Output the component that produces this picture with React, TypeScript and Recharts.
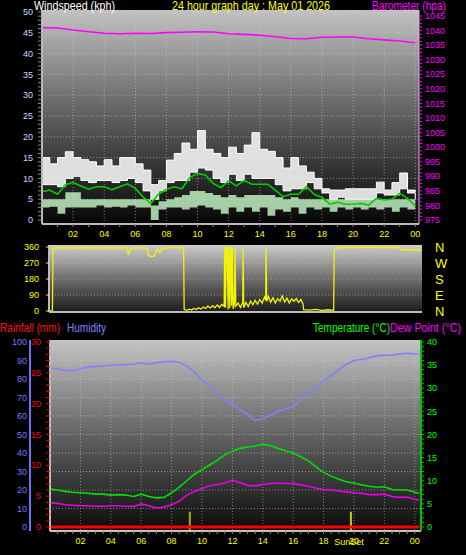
import React from "react";
import { Area, CartesianGrid, ComposedChart, Line, ReferenceLine, XAxis, YAxis } from "recharts";

const FONT = "'Liberation Sans Narrow', 'Arial Narrow', 'Liberation Sans', Arial, sans-serif";

// wind: half-hourly readings 00:00 .. 24:00
const windHours = Array.from({ length: 49 }, (_, i) => i / 2);
const windAvg = [
  6.8, 7.2, 6.2, 8.5, 9.0, 8.2, 7.4, 8.0, 8.0, 7.3, 8.0, 8.7, 7.6, 5.5, 4.0, 6.2, 7.4, 8.0, 7.5, 10.2, 11.2, 10.8, 8.8,
  7.8, 9.4, 8.2, 9.5, 8.6, 8.6, 8.6, 7.2, 5.6, 6.2, 6.2, 8.0, 6.2, 5.4, 3.8, 4.3, 3.8, 3.8, 4.0, 3.6, 5.2, 4.8, 5.0, 6.4,
  5.2, 3.4,
];
const gustHigh = [
  15, 13.5, 15, 16.4, 15, 14.5, 14, 13, 14.5, 13, 15, 15, 13.5, 12, 8.5, 9.5, 14.4, 16, 18.5, 17, 21.5, 17, 16, 15, 17.5,
  16, 18, 21, 17, 16.5, 15, 12.5, 15, 13, 11.5, 10, 7.5, 7.2, 7.2, 7.5, 7.5, 7.5, 7.5, 9.1, 7.2, 9, 11.3, 7.2, 6.7,
];
const gustLow = [
  8.5, 8.5, 8, 10, 10.5, 9.5, 9, 9.5, 9.5, 9, 9.5, 10, 9, 7, 5, 7, 9, 9.5, 9.5, 11.5, 12.5, 12, 10, 9, 11, 9.5, 11, 10,
  10, 10, 8.5, 7, 7.5, 7.5, 9, 7.5, 6.5, 5, 5.5, 5, 5, 5, 5, 6.5, 6, 6, 7.5, 6.5, 5,
];
const speedHigh = [
  5, 5, 5, 6.7, 6.7, 5, 5, 5, 5, 5, 5, 5, 5, 5, 3.5, 4.5, 5, 5.5, 6, 7, 7, 6.5, 6, 5.5, 6, 5.5, 6, 6, 6, 6, 5.5, 5, 5.5,
  5, 5, 5, 5, 5, 5, 5, 5, 5, 5, 5, 5, 5, 5, 5, 5,
];
const speedLow = [
  3, 3.2, 1.5, 3, 3, 3, 3, 3.5, 3, 3.2, 3, 3.5, 3, 3, 0, 2.5, 3, 3, 2.5, 3, 3.5, 3, 2.5, 1.5, 3, 2, 3, 2, 3, 1, 2.5, 2,
  3, 1.5, 3, 2.5, 3, 2, 3, 2.5, 3, 2.5, 3, 2.5, 3, 2, 3, 2.5, 3,
];

// barometer: hourly
const baroHours = Array.from({ length: 25 }, (_, i) => i);
const barometer = [
  1041.0, 1040.9, 1040.2, 1039.6, 1039.1, 1038.9, 1039.1, 1039.0, 1039.3, 1039.4, 1039.6, 1039.5, 1038.9, 1038.7,
  1038.4, 1037.9, 1037.3, 1037.2, 1037.7, 1037.8, 1037.8, 1037.2, 1036.8, 1036.4, 1035.8,
];

// wind direction (irregular samples)
const dirHours = [
  0, 0.22, 0.26, 0.8, 1.6, 2.4, 3.2, 4.0, 4.6, 5.0, 5.12, 5.25, 5.6, 6.2, 6.35, 6.42, 6.6, 6.8, 6.9, 7.05, 7.15, 7.3,
  7.8, 8.3, 8.68, 8.72, 8.9, 9.05, 9.2, 9.35, 9.5, 9.65, 9.8, 9.95, 10.1, 10.25, 10.4, 10.55, 10.7, 10.85, 11.0, 11.15,
  11.3, 11.33, 11.38, 11.44, 11.5, 11.55, 11.6, 11.66, 11.72, 11.78, 11.82, 11.88, 11.95, 12.0, 12.05, 12.2, 12.35, 12.5,
  12.52, 12.56, 12.7, 12.85, 13.0, 13.15, 13.3, 13.45, 13.6, 13.75, 13.9, 13.98, 14.0, 14.04, 14.15, 14.3, 14.45, 14.6,
  14.75, 14.9, 15.05, 15.2, 15.35, 15.5, 15.65, 15.8, 15.95, 16.1, 16.25, 16.38, 16.42, 16.8, 17.2, 17.6, 18.0, 18.36,
  18.4, 18.6, 19.0, 19.6, 20.2, 21.0, 21.6, 22.2, 22.6, 22.7, 23.0, 23.4, 23.8, 24.0,
];
const dirDegrees = [
  0, 0, 352, 357, 354, 357, 355, 357, 354, 357, 322, 350, 356, 355, 348, 312, 306, 310, 340, 345, 330, 352, 356, 357,
  356, 8, 4, 10, 6, 14, 8, 18, 10, 22, 14, 28, 16, 30, 18, 34, 20, 38, 25, 360, 20, 360, 356, 8, 358, 15, 360, 30, 358,
  12, 35, 350, 28, 45, 20, 50, 352, 18, 48, 25, 55, 35, 60, 38, 65, 45, 78, 60, 360, 55, 82, 50, 75, 45, 70, 55, 85, 50,
  72, 45, 68, 55, 70, 48, 65, 40, 8, 5, 9, 4, 7, 4, 345, 354, 358, 357, 358, 358, 357, 358, 356, 342, 346, 343, 346, 344,
];
const compass = ["N", "E", "S", "W", "N"];

// temperature / dew point / humidity: half-hourly
const climateHours = [...Array.from({ length: 49 }, (_, i) => i / 2), 24.3];
const temperature = [
  8.2, 8.0, 7.7, 7.5, 7.4, 7.3, 7.1, 7.1, 6.9, 7.0, 6.9, 6.6, 7.1, 6.6, 6.3, 6.4, 7.4, 8.6, 10.0, 11.4, 12.4, 13.4, 14.4,
  15.6, 16.4, 17.0, 17.3, 17.5, 17.9, 17.6, 17.0, 16.5, 16.0, 15.2, 14.3, 13.0, 11.8, 11.0, 10.3, 9.8, 9.5, 9.1, 8.8,
  8.6, 8.7, 8.1, 8.0, 8.0, 7.5, 7.3,
];
const dewPoint = [
  5.3, 5.1, 4.8, 4.7, 4.6, 4.6, 4.5, 4.5, 4.6, 4.6, 4.5, 4.4, 5.0, 4.6, 4.1, 4.3, 4.8, 5.6, 6.9, 7.7, 8.3, 8.9, 9.2, 9.5,
  10.1, 9.6, 9.0, 8.9, 9.2, 9.4, 9.5, 9.4, 9.4, 9.1, 8.8, 8.4, 8.1, 8.0, 7.8, 7.6, 7.4, 7.3, 7.0, 7.0, 7.1, 6.6, 6.4, 6.5,
  6.0, 5.8,
];
const humidity = [
  86, 85.5, 84.5, 84.5, 85.5, 86.5, 86.8, 87, 87.6, 87.6, 87.8, 88, 88.8, 88, 88.8, 89.4, 89.6, 89, 87, 84, 79.5, 76,
  72.3, 69, 66, 63.2, 61, 57.5, 58.5, 60.5, 62.5, 64, 65, 68.5, 72.5, 75, 79, 82, 85, 88, 90, 90.5, 91.5, 92.5, 92.8, 93,
  93.5, 93.9, 93.6, 93.5,
];
const rainHours = [0, 6, 12, 18, 24.3];
const rainfall = [0, 0, 0, 0, 0];
const sunrise = 9.2;
const sunset = 19.8;

const windRows = windHours.map((h, i) => ({
  h,
  avg: windAvg[i],
  gust: [gustLow[i], gustHigh[i]],
  speed: [speedLow[i], speedHigh[i]],
  baro: barometer[baroHours.indexOf(h)],
}));
const dirRows = dirHours.map((h, i) => ({ h, deg: dirDegrees[i] }));
const climateRows = climateHours.map((h, i) => ({
  h,
  temp: temperature[i],
  dew: dewPoint[i],
  hum: humidity[i],
  rain: rainfall[rainHours.indexOf(h)],
}));

const steps = (from: number, to: number, step: number) =>
  Array.from({ length: Math.round((to - from) / step) + 1 }, (_, i) => from + i * step);

const hourLabel = (v: number) => (v > 0 && v % 2 === 0 ? (v === 24 ? "00" : String(v).padStart(2, "0")) : null);
const everyFive = (v: number) => (Math.abs(v % 5) < 1e-6 ? String(v) : null);

function axisTick(color: string, label: (v: number) => string | null, side: "x" | "y", size = 9) {
  return (props: any) => {
    const { x, y, payload, textAnchor } = props;
    const text = label(payload.value);
    if (text === null) return <g />;
    return (
      <text
        x={x}
        y={y}
        dy={side === "x" ? "0.71em" : "0.35em"}
        textAnchor={textAnchor}
        fill={color}
        fontSize={size}
        fontFamily={FONT}
      >
        {text}
      </text>
    );
  };
}

function Gradient({ id, top, mid, bottom }: { id: string; top: string; mid: string; bottom: string }) {
  return (
    <defs>
      <linearGradient id={id} x1="0" y1="0" x2="0" y2="1">
        <stop offset="0%" stopColor={top} />
        <stop offset="50%" stopColor={mid} />
        <stop offset="100%" stopColor={bottom} />
      </linearGradient>
    </defs>
  );
}

const gridStyle = { stroke: "#d0d0d0", strokeDasharray: "1 2", strokeOpacity: 0.55 };

function Title({ x, y, w, color, children }: { x: number; y: number; w: number; color: string; children: string }) {
  return (
    <text x={x} y={y} fill={color} textLength={w} lengthAdjust="spacingAndGlyphs">
      {children}
    </text>
  );
}

export default function App() {
  return (
    <div
      style={{
        position: "absolute",
        left: 0,
        top: 0,
        width: 466,
        height: 555,
        background: "#000",
        overflow: "hidden",
        fontFamily: FONT,
      }}
    >
      {/* wind speed + barometer */}
      <div style={{ position: "absolute", left: 0, top: 0 }}>
        <ComposedChart width={466} height={245} data={windRows} margin={{ top: 10, right: 0, bottom: 0, left: 12 }}>
          <Gradient id="bg1" top="#c2c2c2" mid="#5e5e5e" bottom="#060606" />
          <CartesianGrid
            fill="url(#bg1)"
            {...gridStyle}
            horizontalValues={steps(5, 50, 5)}
            verticalValues={steps(2, 24, 2)}
          />
          <XAxis
            dataKey="h"
            type="number"
            domain={[0, 24.24]}
            allowDataOverflow
            ticks={steps(1, 24, 1)}
            interval={0}
            height={21}
            axisLine={{ stroke: "#bcbcbc", strokeWidth: 2 }}
            tickLine={{ stroke: "#8a8a8a" }}
            tickSize={3}
            tickMargin={4}
            tick={axisTick("#ffff00", hourLabel, "x")}
          />
          <YAxis
            type="number"
            domain={[-0.96, 50.48]}
            allowDataOverflow
            ticks={steps(0, 50, 1)}
            interval={0}
            width={30}
            axisLine={{ stroke: "#bcbcbc", strokeWidth: 2 }}
            tickLine={{ stroke: "#8a8a8a" }}
            tickSize={4}
            tickMargin={5}
            tick={axisTick("#c8dcff", everyFive, "y")}
          />
          <YAxis
            yAxisId="b"
            orientation="right"
            type="number"
            domain={[973.63, 1047.06]}
            allowDataOverflow
            ticks={steps(975, 1045, 1.25)}
            interval={0}
            width={47}
            axisLine={{ stroke: "#c8c8c8", strokeWidth: 1 }}
            tickLine={{ stroke: "#ff00ff" }}
            tickSize={3}
            tickMargin={3}
            tick={axisTick("#ff00ff", everyFive, "y")}
          />
          <Area
            dataKey="speed"
            type="stepAfter"
            stroke="none"
            fill="#bfeebf"
            fillOpacity={0.85}
            isAnimationActive={false}
          />
          <Area
            dataKey="gust"
            type="stepAfter"
            stroke="#ffffff"
            strokeWidth={1}
            fill="#f2f2f2"
            fillOpacity={0.9}
            isAnimationActive={false}
          />
          <Line dataKey="avg" stroke="#00d000" strokeWidth={1.6} dot={false} isAnimationActive={false} />
          <Line
            dataKey="baro"
            yAxisId="b"
            stroke="#ff00ff"
            strokeWidth={1.6}
            dot={false}
            connectNulls
            isAnimationActive={false}
          />
        </ComposedChart>
      </div>

      {/* wind direction */}
      <div style={{ position: "absolute", left: 0, top: 240 }}>
        <ComposedChart width={466} height={80} data={dirRows} margin={{ top: 5, right: 0, bottom: 7, left: 9 }}>
          <Gradient id="bg2" top="#cdcdcd" mid="#6e6e6e" bottom="#1c1c1c" />
          <CartesianGrid fill="url(#bg2)" {...gridStyle} vertical={false} horizontalValues={[90, 180, 270]} />
          <XAxis
            dataKey="h"
            type="number"
            domain={[0, 24.06]}
            allowDataOverflow
            height={1}
            tick={false}
            tickLine={false}
            axisLine={{ stroke: "#bcbcbc", strokeWidth: 2 }}
          />
          <YAxis
            type="number"
            domain={[-5.6, 371.2]}
            allowDataOverflow
            ticks={[0, 90, 180, 270, 360]}
            interval={0}
            width={40}
            axisLine={{ stroke: "#bcbcbc", strokeWidth: 2 }}
            tickLine={{ stroke: "#ffff00" }}
            tickSize={3}
            tickMargin={7}
            tick={axisTick("#ffff00", (v) => String(v), "y")}
          />
          <YAxis
            yAxisId="c"
            orientation="right"
            type="number"
            domain={[-5.6, 371.2]}
            allowDataOverflow
            ticks={[0, 90, 180, 270, 360]}
            interval={0}
            width={44}
            axisLine={false}
            tickLine={false}
            tickSize={0}
            tickMargin={13}
            tick={axisTick("#ffff00", (v) => compass[v / 90], "y", 13)}
          />
          <Line
            dataKey="deg"
            type="linear"
            stroke="#f4f400"
            strokeWidth={1.3}
            dot={false}
            isAnimationActive={false}
          />
        </ComposedChart>
      </div>

      {/* temperature, dew point, humidity, rainfall */}
      <div style={{ position: "absolute", left: 0, top: 320 }}>
        <ComposedChart width={466} height={235} data={climateRows} margin={{ top: 20, right: 0, bottom: 0, left: 0 }}>
          <Gradient id="bg3" top="#c4c4c4" mid="#626262" bottom="#0a0a0a" />
          <CartesianGrid
            fill="url(#bg3)"
            {...gridStyle}
            horizontalValues={steps(3, 30, 3)}
            verticalValues={steps(2, 24, 2)}
          />
          <XAxis
            dataKey="h"
            type="number"
            domain={[0, 24.41]}
            allowDataOverflow
            ticks={steps(0.5, 24, 0.5)}
            interval={0}
            height={24}
            axisLine={{ stroke: "#c4c4c4", strokeWidth: 2 }}
            tickLine={{ stroke: "#8a8a8a" }}
            tickSize={3}
            tickMargin={4}
            tick={axisTick("#ffff00", hourLabel, "x")}
          />
          <YAxis
            type="number"
            domain={[-0.649, 30.32]}
            allowDataOverflow
            ticks={steps(0, 30, 1)}
            interval={0}
            width={20}
            axisLine={{ stroke: "#bcbcbc", strokeWidth: 2 }}
            tickLine={{ stroke: "#ff0000" }}
            tickSize={4}
            tickMargin={5}
            tick={axisTick("#ff0000", everyFive, "y")}
          />
          <YAxis
            yAxisId="hum"
            type="number"
            domain={[-2.16, 101.08]}
            allowDataOverflow
            ticks={steps(0, 100, 10)}
            interval={0}
            width={30}
            axisLine={{ stroke: "#7070ff", strokeWidth: 2 }}
            tickLine={false}
            tickSize={0}
            tickMargin={3}
            tick={axisTick("#7878ff", (v) => String(v), "y")}
          />
          <YAxis
            yAxisId="t"
            orientation="right"
            type="number"
            domain={[-0.865, 40.43]}
            allowDataOverflow
            ticks={steps(0, 40, 1)}
            interval={0}
            width={45}
            axisLine={{ stroke: "#00c000", strokeWidth: 2 }}
            tickLine={{ stroke: "#00c000" }}
            tickSize={3}
            tickMargin={3}
            tick={axisTick("#00ff00", everyFive, "y")}
          />
          <ReferenceLine
            yAxisId="t"
            segment={[
              { x: sunrise, y: -0.8 },
              { x: sunrise, y: 3.3 },
            ]}
            stroke="#b0a800"
            strokeWidth={2}
          />
          <ReferenceLine
            yAxisId="t"
            segment={[
              { x: sunset, y: -0.8 },
              { x: sunset, y: 3.3 },
            ]}
            stroke="#c8c800"
            strokeWidth={2}
          />
          <Line
            dataKey="hum"
            yAxisId="hum"
            stroke="#8080ff"
            strokeWidth={1.6}
            dot={false}
            isAnimationActive={false}
          />
          <Line dataKey="temp" yAxisId="t" stroke="#00e000" strokeWidth={1.6} dot={false} isAnimationActive={false} />
          <Line dataKey="dew" yAxisId="t" stroke="#e800e8" strokeWidth={1.6} dot={false} isAnimationActive={false} />
          <Line
            dataKey="rain"
            stroke="#ff0000"
            strokeWidth={3}
            dot={false}
            connectNulls
            isAnimationActive={false}
          />
        </ComposedChart>
      </div>

      {/* titles */}
      <svg
        width={466}
        height={555}
        style={{ position: "absolute", left: 0, top: 0, pointerEvents: "none" }}
        fontFamily={FONT}
        fontSize={13}
      >
        <Title x={34} y={9.5} w={81} color="#ffffff">
          Windspeed (kph)
        </Title>
        <Title x={172} y={9.5} w={158} color="#ffff00">
          24 hour graph day : May 01 2026
        </Title>
        <Title x={372} y={9.5} w={74} color="#ff00ff">
          Barometer (hpa)
        </Title>
        <Title x={0} y={331.5} w={60} color="#ff1010">
          Rainfall (mm)
        </Title>
        <Title x={67} y={331.5} w={39} color="#8080ff">
          Humidity
        </Title>
        <Title x={313} y={331.5} w={77} color="#00ff00">
          Temperature (°C)
        </Title>
        <Title x={390} y={331.5} w={71} color="#ff00ff">
          Dew Point (°C)
        </Title>
        <text x={349} y={544.5} fill="#ffff00" fontSize={9} textAnchor="middle">
          SunSet
        </text>
      </svg>
    </div>
  );
}
